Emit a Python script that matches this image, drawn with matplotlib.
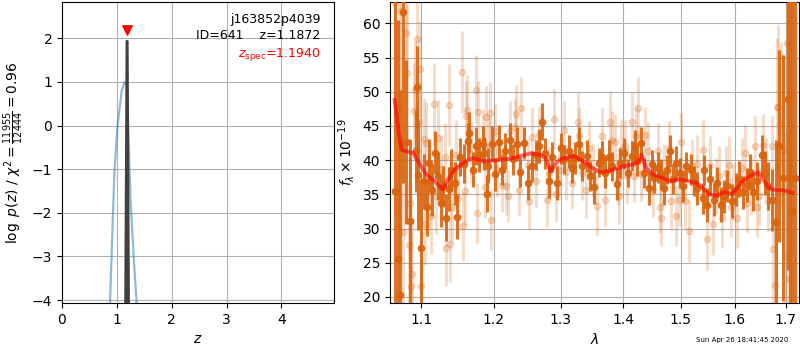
import numpy as np
import matplotlib
matplotlib.use('Agg')
import matplotlib.pyplot as plt
from matplotlib.ticker import FixedLocator, FixedFormatter, NullLocator

# redshift probability: broad template fit and the narrow best-fit peak
z_broad = [0.80, 0.876, 0.918, 0.955, 1.009, 1.089, 1.137, 1.15, 1.18, 1.21, 1.25, 1.31, 1.36, 1.40]
pz_broad = [-6.0, -4.05, -2.45, -1.09, -0.05, 0.80, 0.98, 1.0, 0.95, -0.18, -1.70, -3.07, -4.05, -5.5]
z_peak = [1.155, 1.1872, 1.219]
pz_peak = [-6.0, 1.93, -6.0]
z_spec = 1.1940

# grism spectrum, two beams
dark_wave = [
    1.066, 1.070, 1.073, 1.077, 1.081, 1.085, 1.093, 1.095, 1.096, 1.100,
    1.104, 1.108, 1.111, 1.114, 1.119, 1.123, 1.126, 1.129, 1.133, 1.138,
    1.140, 1.145, 1.148, 1.153, 1.158, 1.163, 1.165, 1.171, 1.174, 1.179,
    1.184, 1.186, 1.190, 1.191, 1.197, 1.202, 1.207, 1.211, 1.216, 1.223,
    1.228, 1.234, 1.238, 1.244, 1.250, 1.256, 1.262, 1.266, 1.271, 1.276,
    1.281, 1.286, 1.294, 1.300, 1.304, 1.312, 1.318, 1.322, 1.328, 1.333,
    1.341, 1.346, 1.353, 1.360, 1.365, 1.371, 1.376, 1.382, 1.390, 1.395,
    1.402, 1.409, 1.415, 1.420, 1.424, 1.431, 1.435, 1.444, 1.449, 1.453,
    1.459, 1.465, 1.470, 1.476, 1.481, 1.486, 1.491, 1.499, 1.504, 1.510,
    1.518, 1.524, 1.530, 1.540, 1.542, 1.548, 1.554, 1.560, 1.567, 1.573,
    1.579, 1.585, 1.594, 1.602, 1.608, 1.615, 1.623, 1.629, 1.635, 1.642,
    1.652, 1.658, 1.665, 1.672, 1.680, 1.687, 1.694, 1.704, 1.709, 1.714,
    1.720]
dark_flux = [
    35.5, 25.5, 20.3, 61.6, 42.7, 31.1, 41.3, 50.7, 37.8, 27.2,
    36.9, 33.1, 39.6, 35.6, 41.1, 37.7, 33.8, 36.2, 31.6, 35.8,
    38.6, 36.6, 31.7, 40.5, 39.5, 42.8, 44.0, 38.6, 42.1, 40.8,
    42.4, 41.0, 35.1, 39.2, 42.4, 37.9, 42.6, 38.6, 41.3, 43.0,
    40.1, 42.3, 38.3, 42.5, 36.7, 39.1, 40.8, 42.1, 45.6, 41.0,
    36.9, 40.5, 36.7, 41.7, 40.1, 41.3, 38.9, 40.3, 42.4, 39.2,
    40.6, 37.7, 36.0, 39.6, 40.5, 38.1, 40.5, 39.1, 36.5, 39.6,
    41.0, 38.1, 40.6, 42.0, 39.8, 42.5, 38.1, 35.9, 39.4, 37.4,
    38.9, 37.9, 35.9, 38.6, 41.3, 37.2, 39.6, 38.1, 36.2, 39.1,
    38.6, 36.9, 35.9, 34.4, 38.5, 33.4, 37.2, 34.2, 36.7, 33.5,
    34.7, 36.2, 34.0, 35.7, 37.2, 35.3, 36.4, 38.3, 35.3, 36.9,
    40.7, 38.1, 36.2, 34.2, 31.0, 42.1, 37.4, 49.0, 37.4, 32.5,
    37.4]
dark_err = [
    40, 35, 30, 25, 12, 12, 6, 6, 8, 10,
    4.0, 4.2, 3.5, 3.8, 3.2, 3.5, 3.6, 3.0, 3.4, 3.2,
    3.0, 3.1, 3.3, 2.8, 2.9, 2.7, 3.0, 2.6, 2.8, 2.5,
    2.6, 2.4, 2.7, 2.5, 2.6, 2.4, 2.5, 2.3, 2.6, 2.4,
    2.3, 2.5, 2.2, 2.4, 2.6, 2.3, 2.2, 2.5, 2.7, 2.3,
    2.4, 2.2, 2.5, 2.3, 2.1, 2.4, 2.2, 2.3, 2.5, 2.2,
    2.3, 2.2, 2.4, 2.1, 2.3, 2.2, 2.4, 2.1, 2.3, 2.2,
    2.3, 2.1, 2.2, 2.4, 2.1, 2.3, 2.2, 2.4, 2.1, 2.2,
    2.3, 2.2, 2.4, 2.1, 2.3, 2.2, 2.4, 2.2, 2.3, 2.1,
    2.3, 2.2, 2.4, 2.3, 2.2, 2.5, 2.3, 2.4, 2.3, 2.5,
    2.4, 2.3, 2.5, 2.4, 2.6, 2.4, 2.5, 2.6, 2.7, 2.8,
    3.0, 3.2, 3.5, 4.5, 12, 14, 18, 25, 30, 35,
    40]

light_wave = [
    1.066, 1.072, 1.074, 1.077, 1.080, 1.082, 1.084, 1.085, 1.087, 1.088,
    1.091, 1.092, 1.095, 1.098, 1.099, 1.100, 1.104, 1.105, 1.107, 1.111,
    1.113, 1.117, 1.120, 1.122, 1.127, 1.132, 1.133, 1.137, 1.139, 1.142,
    1.147, 1.150, 1.155, 1.156, 1.159, 1.160, 1.162, 1.167, 1.174, 1.176,
    1.178, 1.184, 1.188, 1.189, 1.193, 1.195, 1.196, 1.202, 1.204, 1.211,
    1.218, 1.221, 1.224, 1.230, 1.232, 1.236, 1.240, 1.250, 1.251, 1.256,
    1.262, 1.266, 1.278, 1.281, 1.289, 1.292, 1.297, 1.304, 1.308, 1.317,
    1.326, 1.328, 1.333, 1.339, 1.345, 1.351, 1.357, 1.366, 1.371, 1.378,
    1.382, 1.387, 1.391, 1.393, 1.397, 1.404, 1.406, 1.415, 1.418, 1.422,
    1.426, 1.430, 1.437, 1.443, 1.451, 1.459, 1.463, 1.465, 1.470, 1.479,
    1.483, 1.491, 1.496, 1.501, 1.508, 1.515, 1.521, 1.530, 1.540, 1.548,
    1.553, 1.558, 1.564, 1.570, 1.575, 1.583, 1.589, 1.592, 1.597, 1.604,
    1.613, 1.619, 1.623, 1.632, 1.639, 1.643, 1.647, 1.654, 1.660, 1.665,
    1.672, 1.675, 1.678, 1.682, 1.685, 1.690, 1.694, 1.700, 1.703, 1.707,
    1.714]
light_flux = [
    62.9, 49.8, 61.8, 29.5, 58.6, 52.8, 27.6, 33.7, 21.6, 23.4,
    47.2, 50.3, 57.7, 45.6, 53.3, 21.6, 43.1, 30.6, 42.5, 35.5,
    31.8, 48.2, 34.7, 43.3, 38.7, 40.4, 27.1, 48.1, 27.7, 33.2,
    40.8, 34.5, 52.9, 30.3, 35.5, 46.5, 47.4, 41.1, 50.3, 32.2,
    47.1, 43.0, 36.0, 46.3, 41.8, 46.9, 31.3, 44.2, 38.6, 36.4,
    36.2, 34.8, 44.2, 44.9, 46.7, 35.7, 47.6, 39.3, 34.0, 43.4,
    36.9, 43.7, 34.2, 38.1, 46.0, 35.0, 38.6, 44.4, 38.2, 36.7,
    45.6, 43.5, 38.1, 35.7, 41.7, 38.6, 33.3, 43.5, 34.2, 45.6,
    43.0, 42.7, 37.2, 34.7, 41.5, 42.0, 37.7, 45.6, 37.7, 43.5,
    47.6, 37.9, 43.7, 41.3, 35.7, 41.3, 33.2, 31.6, 38.1, 41.7,
    34.0, 31.8, 34.2, 42.6, 34.0, 29.6, 39.1, 39.4, 41.5, 28.5,
    39.3, 30.6, 36.2, 37.7, 31.6, 38.1, 39.3, 33.1, 35.4, 31.5,
    38.9, 41.0, 33.8, 36.2, 42.0, 33.1, 34.7, 42.2, 38.9, 34.0,
    42.0, 27.0, 21.7, 47.8, 47.8, 45.3, 41.5, 26.0, 57.1, 22.6,
    61.2]
light_err = [
    30, 20, 15, 15, 10, 10, 9, 8, 8, 8,
    7, 7, 7, 6, 7, 8, 6, 6, 6, 5.5,
    5.5, 6, 5.5, 5.5, 5, 5, 5.5, 6, 5.5, 5,
    5, 5, 6, 5, 5, 5, 5, 4.5, 5, 4.5,
    4.5, 4.5, 4.5, 4.5, 4.5, 4.5, 4.5, 4, 4, 4,
    4.2, 3.8, 4.4, 4.0, 4.3, 3.9, 4.5, 3.8, 4.1, 4.3,
    3.9, 4.2, 4.0, 3.8, 4.4, 4.1, 3.9, 4.3, 4.0, 3.8,
    4.4, 4.1, 3.9, 4.2, 4.0, 3.8, 4.3, 4.1, 3.9, 4.5,
    4.2, 4.0, 3.8, 4.1, 4.3, 3.9, 4.0, 4.4, 3.8, 4.2,
    4.5, 3.9, 4.1, 4.3, 4.0, 4.2, 3.9, 4.1, 4.3, 4.0,
    4.2, 4.4, 3.9, 4.3, 4.1, 4.5, 4.0, 4.2, 4.4, 4.6,
    4.2, 4.5, 4.1, 4.3, 4.4, 4.0, 4.2, 4.3, 4.1, 4.4,
    4.3, 4.1, 4.4, 4.2, 4.5, 4.3, 4.2, 4.6, 4.4, 4.5,
    4.5, 8, 10, 10, 12, 12, 14, 18, 20, 22,
    25]

# best-fit template
model_wave = [
    1.066, 1.071, 1.075, 1.090, 1.100, 1.107, 1.118, 1.129, 1.136, 1.145,
    1.157, 1.170, 1.186, 1.205, 1.227, 1.254, 1.268, 1.278, 1.284, 1.294,
    1.302, 1.320, 1.336, 1.354, 1.365, 1.384, 1.401, 1.418, 1.426, 1.431,
    1.439, 1.451, 1.467, 1.481, 1.498, 1.515, 1.526, 1.537, 1.551, 1.565,
    1.581, 1.594, 1.605, 1.616, 1.632, 1.645, 1.655, 1.663, 1.672, 1.684,
    1.695, 1.705, 1.714]
model_flux = [
    48.8, 44.0, 41.5, 41.0, 39.1, 37.9, 36.9, 35.7, 37.2, 38.6,
    39.6, 40.3, 39.8, 40.0, 40.3, 41.0, 40.8, 40.1, 38.3, 39.8,
    40.2, 40.6, 39.8, 38.6, 38.2, 38.6, 39.1, 39.4, 39.8, 40.8,
    38.9, 37.9, 37.4, 36.9, 37.2, 36.9, 36.7, 36.2, 35.0, 34.8,
    35.4, 35.0, 36.0, 37.0, 37.8, 38.2, 37.2, 36.3, 35.7, 35.6,
    35.6, 35.4, 35.2]

wave_ticks = [1.1, 1.2, 1.3, 1.4, 1.5, 1.6, 1.7]

fig = plt.figure(figsize=(8, 3.5), dpi=100)
ax1 = fig.add_axes([0.0775, 0.134, 0.34, 0.86])
ax2 = fig.add_axes([0.4875, 0.134, 0.511, 0.86])

# p(z)
ax1.plot(z_broad, pz_broad, color='tab:blue', alpha=0.5, lw=1.6)
ax1.plot(z_peak, pz_peak, color='0.25', lw=2.2)
ax1.scatter([z_spec], [pz_peak[1] + 0.27], marker='v', color='red', s=45, zorder=5)
ax1.set_xlim(0, 4.96)
ax1.set_ylim(pz_peak[1] - 6, pz_peak[1] + 0.9)
ax1.set_xticks([0, 1, 2, 3, 4])
ax1.set_yticks([-4, -3, -2, -1, 0, 1, 2])
ax1.grid()
ax1.set_xlabel('$z$')
ax1.set_ylabel(r'$\log\ p(z)$ / $\chi^2=\frac{11955}{12444}=0.96$')
ax1.text(0.95, 0.963, 'j163852p4039\nID=641    z=1.1872', transform=ax1.transAxes,
         ha='right', va='top', fontsize=9, linespacing=1.3)
ax1.text(0.95, 0.826, r'$z_\mathrm{spec}$=%.4f' % z_spec, transform=ax1.transAxes,
         ha='right', va='center', fontsize=9, color='red')

# spectrum
orange = '#d9640e'
ax2.errorbar(light_wave, light_flux, yerr=light_err, fmt='o', color=orange,
             alpha=0.22, ms=4.5, elinewidth=2.2, capsize=0, zorder=2)
ax2.errorbar(dark_wave, dark_flux, yerr=dark_err, fmt='o', color=orange,
             alpha=0.9, ms=4.5, elinewidth=2.2, capsize=0, zorder=3)
ax2.plot(model_wave, model_flux, color='red', alpha=0.6, lw=2.8, zorder=4)
ax2.set_xscale('log')
ax2.set_xlim(1.06, 1.727)
ax2.set_ylim(19.1, 63.1)
ax2.xaxis.set_major_locator(FixedLocator(wave_ticks))
ax2.xaxis.set_major_formatter(FixedFormatter(['%.1f' % w for w in wave_ticks]))
ax2.xaxis.set_minor_locator(NullLocator())
ax2.grid()
ax2.set_axisbelow(True)
ax2.set_xlabel(r'$\lambda$')
ax2.set_ylabel(r'$f_\lambda\times 10^{-19}$')

fig.text(0.985, 0.029, 'Sun Apr 26 18:41:45 2020', ha='right', va='center', fontsize=5)

fig.savefig('out.png', dpi=100)
